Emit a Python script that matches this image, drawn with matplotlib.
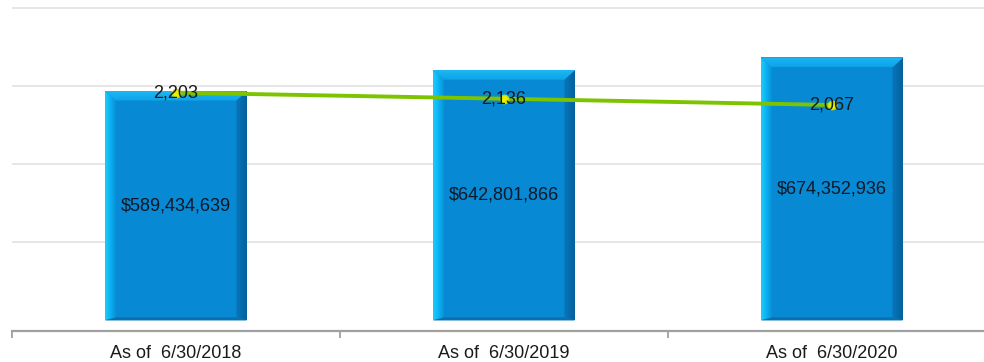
import numpy as np
import matplotlib.pyplot as plt
from matplotlib.patches import Polygon
from matplotlib.colors import LinearSegmentedColormap

plt.rcParams['font.family'] = ['Liberation Sans', 'DejaVu Sans']

categories = ['As of  6/30/2018', 'As of  6/30/2019', 'As of  6/30/2020']
balances = [589434639, 642801866, 674352936]
counts = [2203, 2136, 2067]

FACE = '#0789d3'
BAR_W = 0.435

fig = plt.figure(figsize=(9.84, 3.62), dpi=100)
ax = fig.add_axes([12 / 984, 31 / 362, 1.0, 331 / 362])
ax.set_xlim(-0.5, 2.5)
ax.set_ylim(-27e6, 821.6e6)

x = np.arange(len(categories))
bars = ax.bar(x, balances, width=BAR_W, color=FACE, zorder=2)

# pixel -> data scale for the bevel sizes
px_x = 3.0 / (fig.bbox.width * 1.0)
px_y = (821.6e6 + 27e6) / (fig.bbox.height * 331 / 362)
bx = 11 * px_x
by = 10 * px_y

left_cmap = LinearSegmentedColormap.from_list('l', ['#1ccaff', '#10bcf8', '#0aa4e6', '#0894da'])
right_cmap = LinearSegmentedColormap.from_list('r', ['#0778bd', '#05609c'])
top_cmap = LinearSegmentedColormap.from_list('t', ['#0ea2e4', '#1cb8f6'])
grad = np.linspace(0, 1, 64).reshape(1, -1)

for b in bars:
    x0, x1 = b.get_x(), b.get_x() + b.get_width()
    y0, y1 = 0, b.get_height()
    # left bevel
    lp = Polygon([[x0, y0], [x0 + bx, y0 + by * 0.3], [x0 + bx, y1 - by], [x0, y1]],
                 closed=True, fc='none', ec='none')
    ax.add_patch(lp)
    im = ax.imshow(grad, cmap=left_cmap, aspect='auto', extent=[x0, x0 + bx, y0, y1],
                   zorder=3, interpolation='bilinear')
    im.set_clip_path(lp)
    # right bevel
    rp = Polygon([[x1, y0], [x1 - bx, y0 + by * 0.3], [x1 - bx, y1 - by], [x1, y1]],
                 closed=True, fc='none', ec='none')
    ax.add_patch(rp)
    im = ax.imshow(grad, cmap=right_cmap, aspect='auto', extent=[x1 - bx, x1, y0, y1],
                   zorder=3, interpolation='bilinear')
    im.set_clip_path(rp)
    # top bevel
    tp = Polygon([[x0, y1], [x1, y1], [x1 - bx, y1 - by], [x0 + bx, y1 - by]],
                 closed=True, fc='none', ec='none')
    ax.add_patch(tp)
    im = ax.imshow(grad.T[::-1], cmap=top_cmap, aspect='auto', extent=[x0, x1, y1 - by, y1],
                   zorder=3, interpolation='bilinear')
    im.set_clip_path(tp)
    # bottom edge
    ax.add_patch(Polygon([[x0, y0], [x1, y0], [x1 - bx, y0 + by * 0.3], [x0 + bx, y0 + by * 0.3]],
                         closed=True, fc='#0670b2', ec='none', zorder=3))

for xi, v in zip(x, balances):
    ax.text(xi, v / 2, f'${v:,}', ha='center', va='center', fontsize=13,
            color='#111827', zorder=6)

for yv in [200e6, 400e6, 600e6, 800e6]:
    ax.axhline(yv, color='#e6e6e6', lw=1.4, zorder=1)

for s in ['top', 'left', 'right']:
    ax.spines[s].set_visible(False)
ax.spines['bottom'].set_color('#a0a0a0')
ax.spines['bottom'].set_linewidth(1.6)
ax.spines['bottom'].set_position(('data', -27e6))
ax.set_yticks([])
ax.set_xticks(x)
ax.set_xticklabels(categories, fontsize=13, color='#1a1a1a')
ax.tick_params(axis='x', which='major', length=0, pad=10)
ax.set_xticks([-0.5, 0.5, 1.5, 2.5], minor=True)
ax.tick_params(axis='x', which='minor', length=5, width=1.3, color='#a0a0a0', direction='out')

ax2 = ax.twinx()
ax2.set_ylim(-433, 3228)
ax2.plot(x, counts, color='#7cc400', lw=2.8, marker='o', markersize=6,
         markerfacecolor='#e6f000', markeredgecolor='#c8e000', zorder=4)
for xi, c in zip(x, counts):
    ax2.text(xi, c, f'{c:,}', ha='center', va='center', fontsize=13,
             color='#1a1a1a', zorder=6)
ax2.set_yticks([])
for s in ax2.spines.values():
    s.set_visible(False)

fig.savefig('out.png', dpi=100)
